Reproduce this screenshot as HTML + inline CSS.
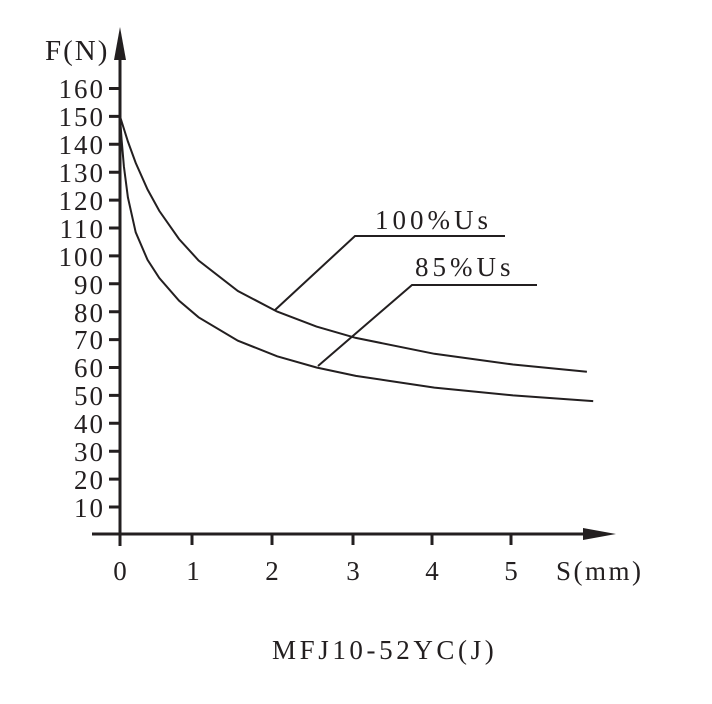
<!DOCTYPE html>
<html><head><meta charset="utf-8"><style>
body{margin:0;background:#fff;}
svg text{font-family:"Liberation Serif",serif;fill:#231f20;font-size:27px;}
</style></head><body>
<svg width="712" height="699" viewBox="0 0 712 699" xmlns="http://www.w3.org/2000/svg">
<g stroke="#231f20" stroke-width="3" fill="none">
<line x1="120" y1="546" x2="120" y2="50"/>
<line x1="92" y1="534" x2="595" y2="534"/>
<path d="M109 507H120M109 479.1H120M109 451.2H120M109 423.3H120M109 395.4H120M109 367.5H120M109 339.6H120M109 311.7H120M109 283.8H120M109 255.9H120M109 228H120M109 200.1H120M109 172.2H120M109 144.3H120M109 116.4H120M109 88.5H120"/>
<path d="M192 534V545M272 534V545M353 534V545M432 534V545M511 534V545"/>
</g>
<polygon points="120,27 114,60 126,60" fill="#231f20"/>
<polygon points="616,534 583,528 583,540" fill="#231f20"/>
<g stroke="#231f20" stroke-width="2" fill="none">
<polyline points="120,116.4 127.9,141.5 135.7,162.9 147.5,189.4 159.3,210.9 179,239 198.6,260.5 237.9,291 277.2,311.6 316.5,326.6 355.8,337.9 434.4,353.8 513,364.5 586.9,371.8"/>
<polyline points="120,116.4 121.6,139.6 123.9,166.5 127.9,197.4 135.7,232.3 147.5,259.8 159.3,278 179,300.6 198.6,317.3 237.9,340.7 277.2,356.3 316.5,367.5 355.8,375.9 434.4,387.6 513,395.4 593.2,401.1"/>
<polyline points="275,310 355,236 505,236"/>
<polyline points="318,366 412,285 537,285"/>
</g>
<text x="375" y="229" style="font-size:27px;letter-spacing:4px">100%Us</text>
<text x="415" y="276" style="font-size:27px;letter-spacing:4px">85%Us</text>
<text x="45" y="60" style="font-size:29px;letter-spacing:2px">F(N)</text>
<text x="556" y="580" style="font-size:27px;letter-spacing:2.5px">S(mm)</text>
<text x="272" y="659" style="font-size:27px;letter-spacing:3.6px">MFJ10-52YC(J)</text>
<g text-anchor="end" style="font-size:29px;letter-spacing:2px">
<text x="105" y="517">10</text><text x="105" y="489">20</text><text x="105" y="461">30</text><text x="105" y="433">40</text>
<text x="105" y="405">50</text><text x="105" y="377">60</text><text x="105" y="349">70</text><text x="105" y="322">80</text>
<text x="105" y="294">90</text><text x="105" y="266">100</text><text x="105" y="238">110</text><text x="105" y="210">120</text>
<text x="105" y="182">130</text><text x="105" y="154">140</text><text x="105" y="126">150</text><text x="105" y="98">160</text>
</g>
<g text-anchor="middle" style="font-size:26px">
<text x="120" y="580">0</text><text x="193" y="580">1</text><text x="272" y="580">2</text>
<text x="353" y="580">3</text><text x="432" y="580">4</text><text x="511" y="580">5</text>
</g>
</svg>
</body></html>
